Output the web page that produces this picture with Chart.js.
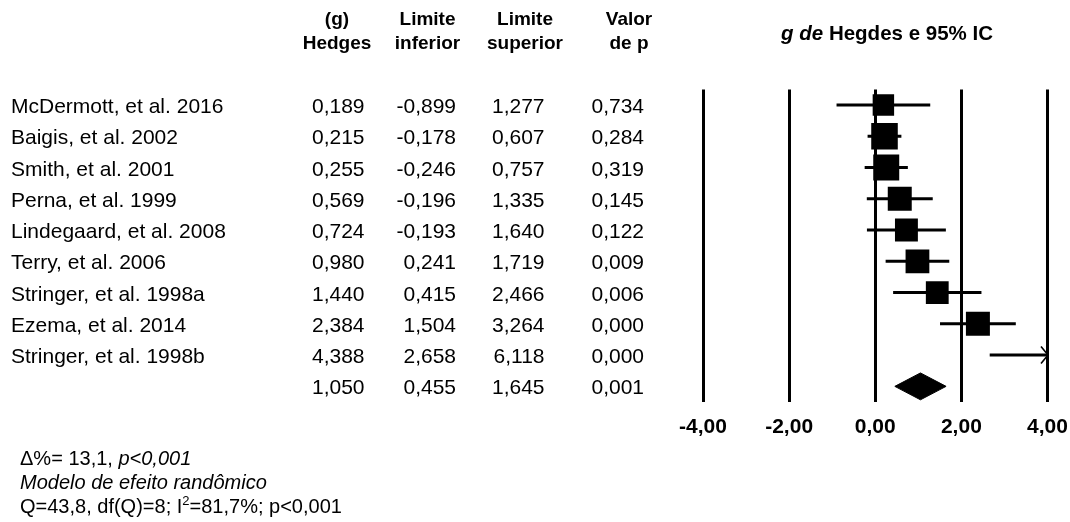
<!DOCTYPE html>
<html lang="pt">
<head>
<meta charset="utf-8">
<title>g de Hegdes e 95% IC</title>
<script src="https://cdn.jsdelivr.net/npm/chart.js@4/dist/chart.umd.min.js"></script>
<style>
  html, body { margin: 0; padding: 0; background: #fff; }
  #wrap { position: relative; width: 1070px; height: 522px; }
</style>
</head>
<body>
<div id="wrap"><canvas id="forest" width="1070" height="522"></canvas></div>
<script>
// Estudos incluídos na metanálise
const estudos = [
  'McDermott, et al. 2016',
  'Baigis, et al. 2002',
  'Smith, et al. 2001',
  'Perna, et al. 1999',
  'Lindegaard, et al. 2008',
  'Terry, et al. 2006',
  'Stringer, et al. 1998a',
  'Ezema, et al. 2014',
  'Stringer, et al. 1998b'
];
const hedgesG  = [0.189, 0.215, 0.255, 0.569, 0.724, 0.980, 1.440, 2.384, 4.388];
const limInf   = [-0.899, -0.178, -0.246, -0.196, -0.193, 0.241, 0.415, 1.504, 2.658];
const limSup   = [1.277, 0.607, 0.757, 1.335, 1.640, 1.719, 2.466, 3.264, 6.118];
const valorP   = [0.734, 0.284, 0.319, 0.145, 0.122, 0.009, 0.006, 0.000, 0.000];
// Peso relativo (%) de cada estudo no modelo de efeito randômico
const pesos    = [9.2, 14.1, 13.5, 11.5, 10.5, 11.3, 10.4, 11.5, 8.0];

// Efeito combinado
const resumoG   = 1.050;
const resumoInf = 0.455;
const resumoSup = 1.645;
const resumoP   = 0.001;

// Marcas do eixo x
const ticksX = [-4, -2, 0, 2, 4];

const FONT = '"Liberation Sans", Arial, Helvetica, sans-serif';
const fmt = v => v.toFixed(3).replace('.', ',');
const fmtEixo = v => v.toFixed(2).replace('.', ',');

const nEst = estudos.length;
const linhaResumo = nEst;          // o losango fica na linha seguinte aos estudos
const meiaAlturaLosango = 0.43;    // em unidades de linha

// Segmentos dos intervalos de confiança (um dataset por estudo)
const datasetsIC = estudos.map((nome, i) => ({
  type: 'line',
  label: nome,
  data: [{ x: limInf[i], y: i }, { x: limSup[i], y: i }],
  borderColor: '#000',
  borderWidth: 3,
  pointRadius: 0,
  fill: false,
  clip: { left: 0, right: 0, top: false, bottom: false },
  order: 2
}));

// Quadrados com área proporcional ao peso
const raioQuadrado = w => 5.0 * Math.sqrt(w);
const datasetQuadrados = {
  type: 'scatter',
  label: 'g de Hedges',
  data: hedgesG.map((g, i) => ({ x: g, y: i })),
  pointStyle: 'rect',
  pointRadius: pesos.map(raioQuadrado),
  pointHoverRadius: pesos.map(raioQuadrado),
  backgroundColor: '#000',
  borderColor: '#000',
  borderWidth: 0,
  clip: 0,
  order: 1
};

// Losango do efeito combinado
const datasetLosango = {
  type: 'line',
  label: 'Efeito combinado',
  data: [
    { x: resumoInf, y: linhaResumo },
    { x: resumoG,   y: linhaResumo - meiaAlturaLosango },
    { x: resumoSup, y: linhaResumo },
    { x: resumoG,   y: linhaResumo + meiaAlturaLosango },
    { x: resumoInf, y: linhaResumo }
  ],
  borderColor: '#000',
  borderWidth: 1,
  backgroundColor: '#000',
  pointRadius: 0,
  tension: 0,
  fill: 'shape',
  order: 1
};

// Setas para intervalos que ultrapassam o limite do eixo
const setasPlugin = {
  id: 'setas',
  afterDatasetsDraw(chart) {
    const { ctx, scales: { x, y } } = chart;
    ctx.save();
    ctx.strokeStyle = '#000';
    ctx.lineWidth = 1.6;
    estudos.forEach((_, i) => {
      if (limSup[i] > x.max) {
        const px = x.getPixelForValue(x.max) + 0.5;
        const py = y.getPixelForValue(i);
        ctx.beginPath();
        ctx.moveTo(px - 7, py - 8.5);
        ctx.lineTo(px, py);
        ctx.lineTo(px - 7, py + 8.5);
        ctx.stroke();
      }
    });
    ctx.restore();
  }
};

// Tabela de valores, cabeçalhos, título e notas
const tabelaPlugin = {
  id: 'tabela',
  afterDraw(chart) {
    const { ctx, scales: { y } } = chart;
    ctx.save();
    ctx.fillStyle = '#000';
    ctx.textBaseline = 'alphabetic';

    // Cabeçalhos das colunas
    ctx.font = 'bold 19px ' + FONT;
    ctx.textAlign = 'center';
    const cab = [
      ['(g)', 'Hedges', 337],
      ['Limite', 'inferior', 427.5],
      ['Limite', 'superior', 525],
      ['Valor', 'de p', 629]
    ];
    cab.forEach(([l1, l2, cx]) => {
      ctx.fillText(l1, cx, 24.5);
      ctx.fillText(l2, cx, 48.5);
    });

    // Título do gráfico
    const tItal = 'g de';
    const tReto = ' Hegdes e 95% IC';
    ctx.font = 'italic bold 20.5px ' + FONT;
    const w1 = ctx.measureText(tItal).width;
    ctx.font = 'bold 20.5px ' + FONT;
    const w2 = ctx.measureText(tReto).width;
    const x0 = 887 - (w1 + w2) / 2;
    ctx.textAlign = 'left';
    ctx.font = 'italic bold 20.5px ' + FONT;
    ctx.fillText(tItal, x0, 40);
    ctx.font = 'bold 20.5px ' + FONT;
    ctx.fillText(tReto, x0 + w1, 40);

    // Linhas dos estudos
    ctx.font = '21px ' + FONT;
    const colX = [364.5, 456, 544.5, 644];
    const linha = (nome, vals, i) => {
      const py = y.getPixelForValue(i) + 8;
      if (nome) {
        ctx.textAlign = 'left';
        ctx.fillText(nome, 11, py);
      }
      ctx.textAlign = 'right';
      vals.forEach((v, k) => ctx.fillText(fmt(v), colX[k], py));
    };
    estudos.forEach((nome, i) => linha(nome, [hedgesG[i], limInf[i], limSup[i], valorP[i]], i));
    linha(null, [resumoG, resumoInf, resumoSup, resumoP], linhaResumo);

    // Notas de rodapé
    ctx.textAlign = 'left';
    const fx = 20;
    ctx.font = '20px ' + FONT;
    const n1 = 'Δ%= 13,1, ';
    ctx.fillText(n1, fx, 465);
    const wn1 = ctx.measureText(n1).width;
    ctx.font = 'italic 20px ' + FONT;
    ctx.fillText('p<0,001', fx + wn1, 465);
    ctx.fillText('Modelo de efeito randômico', fx, 489);
    ctx.font = '20px ' + FONT;
    const a = 'Q=43,8, df(Q)=8; I';
    ctx.fillText(a, fx, 513);
    let cx = fx + ctx.measureText(a).width;
    ctx.font = '13px ' + FONT;
    ctx.fillText('2', cx, 505);
    cx += ctx.measureText('2').width;
    ctx.font = '20px ' + FONT;
    ctx.fillText('=81,7%; p<0,001', cx, 513);

    ctx.restore();
  }
};

new Chart(document.getElementById('forest'), {
  type: 'line',
  data: { datasets: [...datasetsIC, datasetQuadrados, datasetLosango] },
  options: {
    responsive: false,
    devicePixelRatio: 1,
    animation: false,
    events: [],
    layout: { padding: { left: 703, right: 22.5, top: 89.4, bottom: 80 } },
    plugins: {
      legend: { display: false },
      tooltip: { enabled: false },
      title: { display: false }
    },
    scales: {
      x: {
        type: 'linear',
        min: ticksX[0],
        max: ticksX[ticksX.length - 1],
        afterBuildTicks(scale) {
          scale.ticks = ticksX.map(v => ({ value: v }));
        },
        afterFit(scale) {
          scale.height = 40;
          scale.paddingLeft = 0;
          scale.paddingRight = 0;
        },
        ticks: {
          color: '#000',
          font: { family: FONT, size: 21, weight: 'bold' },
          padding: 13,
          maxRotation: 0,
          callback: v => fmtEixo(v)
        },
        grid: { color: '#000', lineWidth: 3, drawTicks: false },
        border: { display: false }
      },
      y: {
        type: 'linear',
        display: false,
        reverse: true,
        min: -0.5,
        max: nEst + 0.5
      }
    }
  },
  plugins: [setasPlugin, tabelaPlugin]
});
</script>
</body>
</html>
